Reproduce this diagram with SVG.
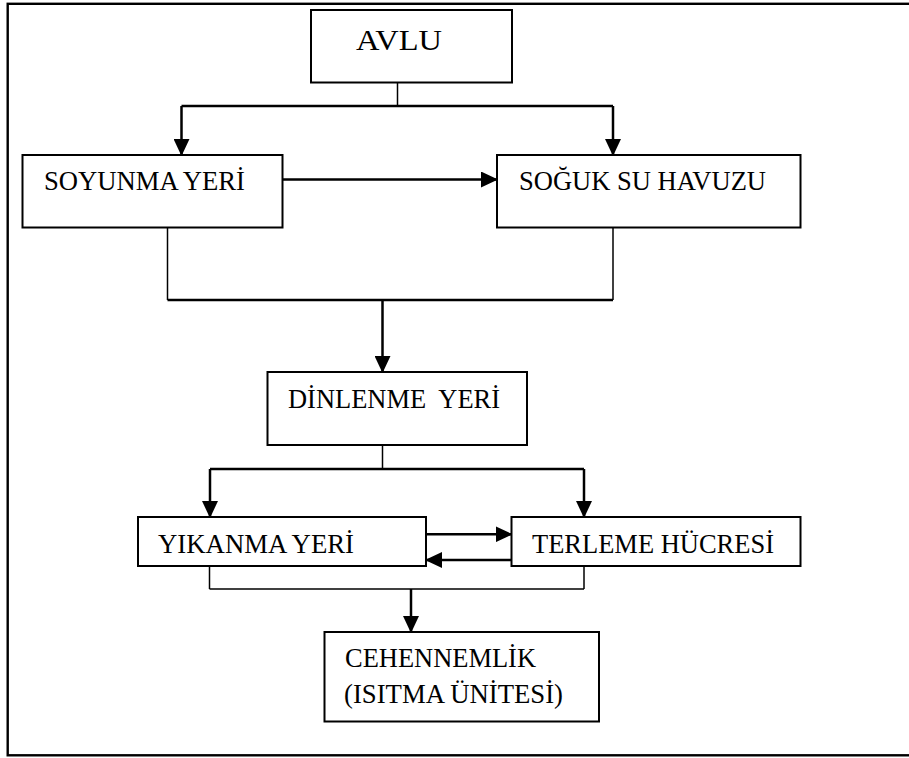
<svg xmlns="http://www.w3.org/2000/svg" width="909" height="758" viewBox="0 0 909 758">
  <style>
    .box { fill: #ffffff; stroke: #000000; stroke-width: 2; }
    .lbl { font-family: "Liberation Serif", "Times New Roman", serif; font-size: 26.5px; fill: #000000; white-space: pre; }
    .thin { fill: none; stroke: #000000; stroke-width: 1.5; }
    .thick { fill: none; stroke: #000000; stroke-width: 2.5; }
    .arr { fill: none; stroke: #000000; stroke-width: 2.5; marker-end: url(#ah); }
  </style>
  <defs>
    <marker id="ah" viewBox="0 0 17 16" markerWidth="17" markerHeight="16" refX="16" refY="8" orient="auto" markerUnits="userSpaceOnUse">
      <path d="M0,0 L17,8 L0,16 Z" fill="#000000"/>
    </marker>
  </defs>
  <rect width="909" height="758" fill="#ffffff"/>
  <rect id="frame" x="7.7" y="3.8" width="1000" height="751.5" fill="none" stroke="#000000" stroke-width="2.4"/>

  <g id="connectors">
    <line class="thin" x1="397.5" y1="82.5" x2="397.5" y2="106"/>
    <path class="thick" d="M181.5,106 H613"/>
    <path class="arr" d="M181.5,106 V155"/>
    <path class="arr" d="M613,106 V155"/>
    <path class="arr" d="M282.5,179.5 H497"/>
    <line class="thin" x1="167.5" y1="227.5" x2="167.5" y2="300"/>
    <line class="thin" x1="613" y1="227.5" x2="613" y2="300"/>
    <path class="thick" d="M167.5,300 H613"/>
    <path class="arr" d="M382.5,300 V372"/>
    <line class="thin" x1="382.5" y1="445" x2="382.5" y2="469"/>
    <path class="thick" d="M210,469 H584"/>
    <path class="arr" d="M210,469 V517"/>
    <path class="arr" d="M584,469 V517"/>
    <path class="arr" d="M426,534.3 H511.5"/>
    <path class="arr" d="M511.5,560 H426"/>
    <line class="thin" x1="209.5" y1="566" x2="209.5" y2="589"/>
    <line class="thin" x1="584" y1="566" x2="584" y2="589"/>
    <path class="thin" d="M209.5,589 H584"/>
    <path class="arr" d="M411,589 V632"/>
  </g>

  <g id="avlu">
    <rect class="box" x="311" y="10" width="201" height="72.5"/>
    <text class="lbl" x="356" y="49.5" style="font-size:30px" textLength="86" lengthAdjust="spacingAndGlyphs">AVLU</text>
  </g>
  <g id="soyunma">
    <rect class="box" x="22.5" y="155" width="260" height="72.5"/>
    <text class="lbl" x="44" y="189.5" textLength="201" lengthAdjust="spacingAndGlyphs">SOYUNMA YERİ</text>
  </g>
  <g id="soguk">
    <rect class="box" x="497" y="155" width="303.5" height="72.5"/>
    <text class="lbl" x="519" y="190" textLength="247" lengthAdjust="spacingAndGlyphs">SOĞUK SU HAVUZU</text>
  </g>
  <g id="dinlenme">
    <rect class="box" x="267.5" y="372" width="259.5" height="73"/>
    <text class="lbl" x="288" y="407.7" textLength="212" lengthAdjust="spacingAndGlyphs">DİNLENME  YERİ</text>
  </g>
  <g id="yikanma">
    <rect class="box" x="138" y="517" width="288" height="49"/>
    <text class="lbl" x="158" y="552.7" textLength="196" lengthAdjust="spacingAndGlyphs">YIKANMA YERİ</text>
  </g>
  <g id="terleme">
    <rect class="box" x="511.5" y="517" width="289" height="49"/>
    <text class="lbl" x="532" y="553" textLength="242" lengthAdjust="spacingAndGlyphs">TERLEME HÜCRESİ</text>
  </g>
  <g id="cehennemlik">
    <rect class="box" x="324.5" y="632" width="274.5" height="89.5"/>
    <text class="lbl" x="345" y="666.7" textLength="191" lengthAdjust="spacingAndGlyphs">CEHENNEMLİK</text>
    <text class="lbl" x="344" y="703" textLength="219" lengthAdjust="spacingAndGlyphs">(ISITMA ÜNİTESİ)</text>
  </g>
</svg>
